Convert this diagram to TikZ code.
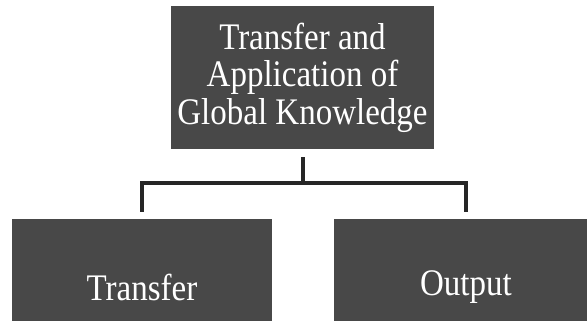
\documentclass[tikz,border=0pt]{standalone}
\usepackage{fontspec}
\setmainfont{Liberation Serif}[FakeStretch=0.88]
\usetikzlibrary{calc}
\definecolor{boxgray}{HTML}{484848}
\tikzset{
  box/.style={fill=boxgray, draw=none, text=white, align=center, inner sep=0pt,
    font=\fontsize{37.5}{37.5}\selectfont},
  conn/.style={line width=4pt, draw=black!85, line cap=butt, line join=miter}
}
\begin{document}
\begin{tikzpicture}[x=1pt,y=1pt]
  \useasboundingbox (0,0) rectangle (587,321);
  \clip (0,0) rectangle (587,321);
  % top box
  \node[box, minimum width=263pt, minimum height=143pt] (top) at (302.5,243.5)
    {Transfer and\\Application of\\Global Knowledge};
  % lower boxes (they run off the lower edge)
  \node[box, minimum width=260pt, minimum height=136pt] (left) at (142,34)
    {Transfer};
  \node[box, minimum width=264pt, minimum height=136pt] (right) at (466,34)
    {Output};
  % bracket connector
  \coordinate (mid) at (302.5,138);
  \draw[conn, shorten <=8pt] (top.south) -- (top.south |- mid);
  \draw[conn, shorten >=7pt] (mid) -| (left.north);
  \draw[conn, shorten >=7pt] (mid) -| (right.north);
\end{tikzpicture}
\end{document}
